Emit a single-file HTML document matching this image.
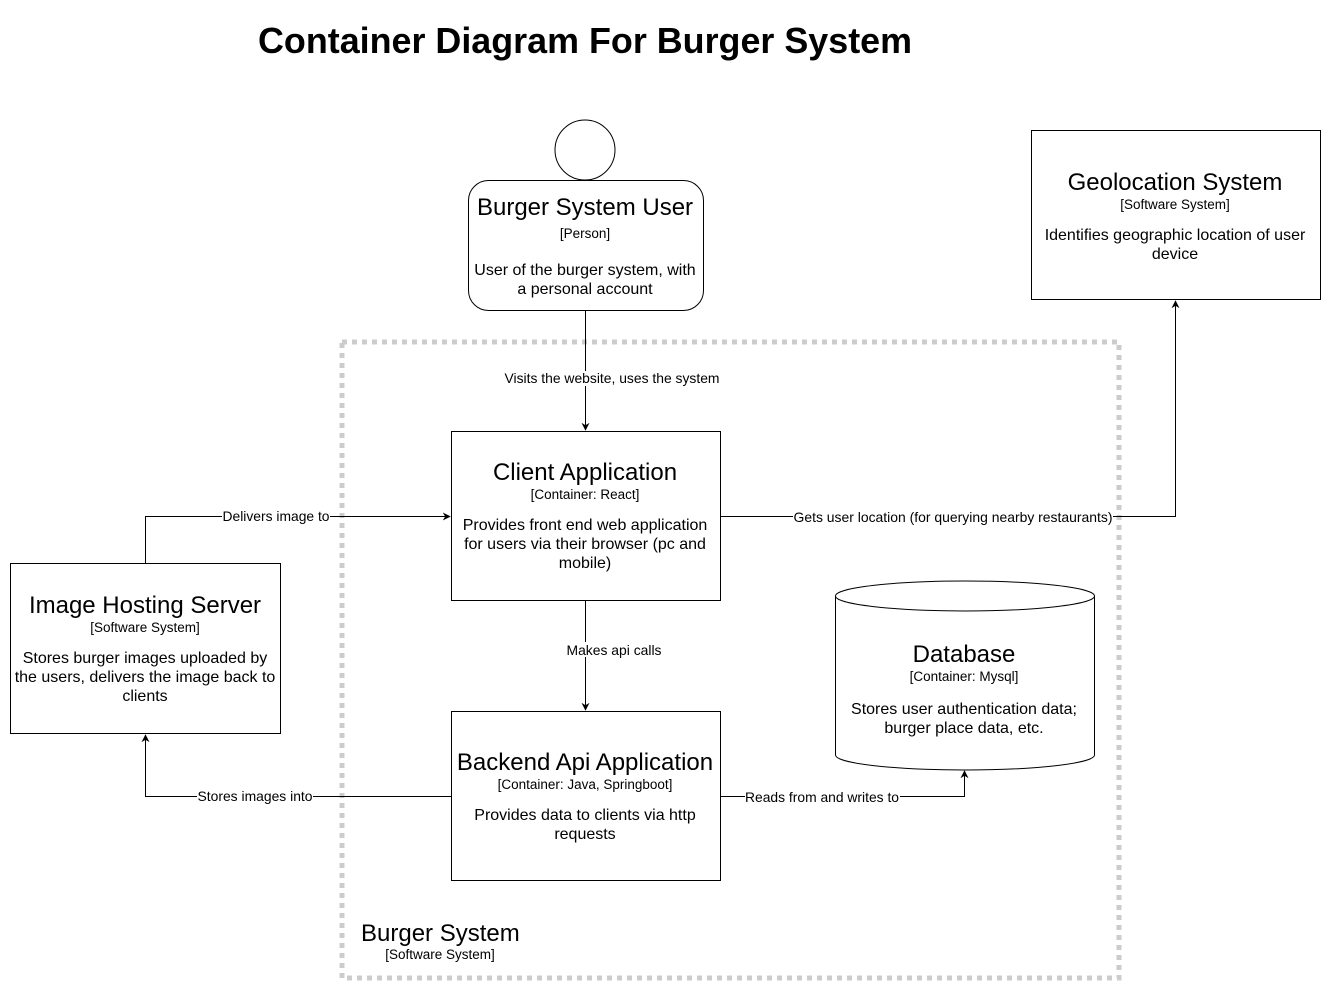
<!DOCTYPE html>
<html><head><meta charset="utf-8"><style>
html,body{margin:0;padding:0;background:#fff;}
svg{display:block;font-family:"Liberation Sans",Arial,sans-serif;}
</style></head><body>
<svg width="1331" height="993" viewBox="0 0 1331 993" xmlns="http://www.w3.org/2000/svg">
<defs><marker id="a" viewBox="0 0 10 10" refX="9" refY="5" markerWidth="8" markerHeight="8" orient="auto" markerUnits="userSpaceOnUse"><path d="M0,0 L10,5 L0,10 L3,5 Z" fill="#000"/></marker></defs>
<text x="585" y="53" text-anchor="middle" font-size="36" font-weight="bold" textLength="654" lengthAdjust="spacingAndGlyphs">Container Diagram For Burger System</text>

<rect x="342" y="342" width="777" height="636" fill="none" stroke="#ccc" stroke-width="5" stroke-dasharray="5 5"/>
<text x="361" y="941" font-size="24">Burger System</text>
<text x="440" y="959" font-size="13.5" text-anchor="middle">[Software System]</text>

<circle cx="585" cy="150" r="30" fill="#fff" stroke="#000"/>
<rect x="468.5" y="180.5" width="235" height="130" rx="20" fill="#fff" stroke="#000"/>
<text x="585" y="215" font-size="24" text-anchor="middle">Burger System User</text>
<text x="585" y="238" font-size="13.5" text-anchor="middle">[Person]</text>
<text x="585" y="275" font-size="16" text-anchor="middle">User of the burger system, with</text>
<text x="585" y="294" font-size="16" text-anchor="middle">a personal account</text>

<rect x="1031.5" y="130.5" width="289" height="169" fill="#fff" stroke="#000"/>
<text x="1175" y="190" font-size="24" text-anchor="middle">Geolocation System</text>
<text x="1175" y="209" font-size="13.5" text-anchor="middle">[Software System]</text>
<text x="1175" y="240" font-size="16" text-anchor="middle">Identifies geographic location of user</text>
<text x="1175" y="259" font-size="16" text-anchor="middle">device</text>

<rect x="451.5" y="431.5" width="269" height="169" fill="#fff" stroke="#000"/>
<text x="585" y="480" font-size="24" text-anchor="middle">Client Application</text>
<text x="585" y="499" font-size="13.5" text-anchor="middle">[Container: React]</text>
<text x="585" y="530" font-size="16" text-anchor="middle">Provides front end web application</text>
<text x="585" y="549" font-size="16" text-anchor="middle">for users via their browser (pc and</text>
<text x="585" y="568" font-size="16" text-anchor="middle">mobile)</text>

<rect x="10.5" y="563.5" width="270" height="170" fill="#fff" stroke="#000"/>
<text x="145" y="613" font-size="24" text-anchor="middle">Image Hosting Server</text>
<text x="145" y="632" font-size="13.5" text-anchor="middle">[Software System]</text>
<text x="145" y="663" font-size="16" text-anchor="middle">Stores burger images uploaded by</text>
<text x="145" y="682" font-size="16" text-anchor="middle">the users, delivers the image back to</text>
<text x="145" y="701" font-size="16" text-anchor="middle">clients</text>

<path d="M835.5,596 L835.5,755 A129.5,15 0 0 0 1094.5,755 L1094.5,596" fill="#fff" stroke="#000"/>
<ellipse cx="965" cy="596" rx="129.5" ry="15" fill="#fff" stroke="#000"/>
<text x="964" y="662" font-size="24" text-anchor="middle">Database</text>
<text x="964" y="681" font-size="13.5" text-anchor="middle">[Container: Mysql]</text>
<text x="964" y="714" font-size="16" text-anchor="middle">Stores user authentication data;</text>
<text x="964" y="733" font-size="16" text-anchor="middle">burger place data, etc.</text>

<rect x="451.5" y="711.5" width="269" height="169" fill="#fff" stroke="#000"/>
<text x="585" y="770" font-size="24" text-anchor="middle">Backend Api Application</text>
<text x="585" y="789" font-size="13.5" text-anchor="middle">[Container: Java, Springboot]</text>
<text x="585" y="820" font-size="16" text-anchor="middle">Provides data to clients via http</text>
<text x="585" y="839" font-size="16" text-anchor="middle">requests</text>

<g fill="none" stroke="#000" stroke-width="1">
<path d="M585.5,311 L585.5,430" marker-end="url(#a)"/>
<path d="M145.5,563 L145.5,516.5 L450,516.5" marker-end="url(#a)"/>
<path d="M721,516.5 L1175.5,516.5 L1175.5,301" marker-end="url(#a)"/>
<path d="M585.5,601 L585.5,710" marker-end="url(#a)"/>
<path d="M451,796.5 L145.5,796.5 L145.5,735" marker-end="url(#a)"/>
<path d="M721,796.5 L964.5,796.5 L964.5,771" marker-end="url(#a)"/>
</g>
<g font-size="14" text-anchor="middle">
<rect x="504" y="371" width="216" height="15" fill="#fff"/>
<text x="612" y="383" textLength="215" lengthAdjust="spacingAndGlyphs">Visits the website, uses the system</text>
<rect x="222" y="509" width="108" height="15" fill="#fff"/>
<text x="276" y="521" textLength="107" lengthAdjust="spacingAndGlyphs">Delivers image to</text>
<rect x="793" y="509" width="320" height="15" fill="#fff"/>
<text x="953" y="522" textLength="319" lengthAdjust="spacingAndGlyphs">Gets user location (for querying nearby restaurants)</text>
<rect x="566" y="642" width="96" height="15" fill="#fff"/>
<text x="614" y="655" textLength="95" lengthAdjust="spacingAndGlyphs">Makes api calls</text>
<rect x="197" y="789" width="116" height="15" fill="#fff"/>
<text x="255" y="801" textLength="115" lengthAdjust="spacingAndGlyphs">Stores images into</text>
<rect x="745" y="789" width="155" height="15" fill="#fff"/>
<text x="822" y="802" textLength="154" lengthAdjust="spacingAndGlyphs">Reads from and writes to</text>
</g>
</svg>
</body></html>
